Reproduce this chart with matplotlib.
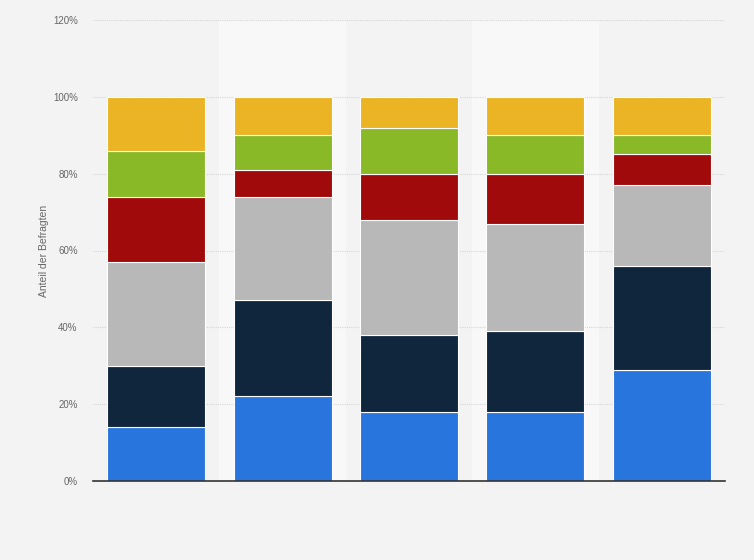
import matplotlib
matplotlib.use("Agg")
import matplotlib.pyplot as plt
import numpy as np

# Shares (%) per bar, bottom segment first
blue = [14, 22, 18, 18, 29]
navy = [16, 25, 20, 21, 27]
grey = [27, 27, 30, 28, 21]
red = [17, 7, 12, 13, 8]
green = [12, 9, 12, 10, 5]
yellow = [14, 10, 8, 10, 10]

series = [blue, navy, grey, red, green, yellow]
colors = ["#2876dd", "#0f263d", "#b8b8b8", "#a10a0a", "#89b926", "#eab424"]
y_ticks = [0, 20, 40, 60, 80, 100, 120]

plt.rcParams["font.family"] = ["Liberation Sans", "DejaVu Sans"]


def main():
    fig = plt.figure(figsize=(7.54, 5.6), dpi=100, facecolor="#f3f3f3")
    ax = fig.add_axes([93 / 754, 79 / 560, 632 / 754, 461 / 560])
    ax.set_facecolor("#f3f3f3")

    x = np.arange(len(blue))
    # lighter bands behind every second category
    for i in x:
        if i % 2 == 1:
            ax.axvspan(i - 0.5, i + 0.5, color="#f8f8f8", zorder=0, lw=0)

    bottom = np.zeros(len(x))
    for vals, col in zip(series, colors):
        ax.bar(x, vals, bottom=bottom, width=0.775, color=col,
               edgecolor="white", linewidth=0.8, zorder=3)
        bottom += np.array(vals)

    ax.set_xlim(-0.5, len(x) - 0.5)
    ax.set_ylim(0, 120)
    ax.set_yticks(y_ticks)
    ax.set_yticklabels([f"{t}%" for t in y_ticks], fontsize=7, color="#666666")
    ax.set_xticks([])
    ax.tick_params(axis="y", length=0, pad=11)
    ax.grid(axis="y", color="#d6d6d6", linestyle=(0, (1, 1)), linewidth=0.8, zorder=1)
    for s in ["left", "right", "top"]:
        ax.spines[s].set_visible(False)
    ax.spines["bottom"].set_color("#333333")
    ax.spines["bottom"].set_linewidth(1.2)
    ax.spines["bottom"].set_zorder(4)

    ax.set_ylabel("Anteil der Befragten", fontsize=7.5, color="#666666", labelpad=3)

    fig.savefig("out.png", dpi=100, facecolor=fig.get_facecolor())


if __name__ == "__main__":
    main()
